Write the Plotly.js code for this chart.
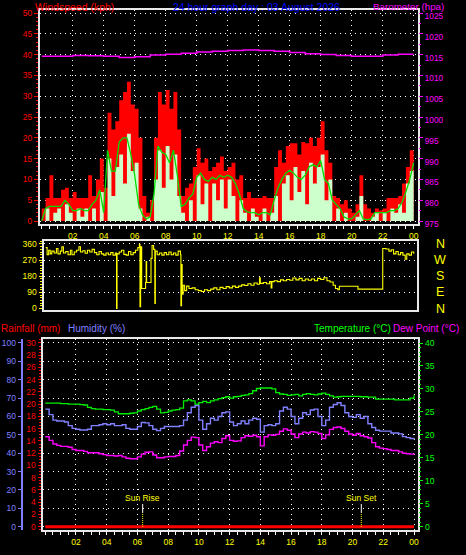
<!DOCTYPE html>
<html><head><meta charset="utf-8">
<script src="https://cdn.plot.ly/plotly-3.0.1.min.js"></script>
<style>html,body{margin:0;padding:0;background:#000;}#chart{width:466px;height:555px;}</style>
</head><body><div id="chart"></div>
<script>
// ---- Data (15-minute samples from 00:00 to 24:00) ----
const windGust = [
  3, 5.5, 11, 5.5,   5.5, 7.5, 8, 5.5,   7, 5.5, 5.5, 5.5,   11, 6, 10, 15,
  8, 26, 22, 24,     29, 31, 33.5, 28,   27, 20, 6, 2,       5, 20, 31, 28,
  31.5, 27, 31, 22,  6, 8, 9, 13,        17.5, 14, 15, 12,   13, 14, 15.5, 12,
  13, 14, 10, 11,    5.5, 7, 5.5, 5.5,   5.5, 6, 5.5, 5.5,   13, 17, 14, 18,
  18.7, 18.7, 16, 19, 18.7, 20, 18, 20,  24, 17, 14, 6,      5.5, 4, 5, 3,
  2, 4, 11, 4,       3, 2, 3, 2.5,       3, 5.5, 5.5, 5.5,   6, 9, 13, 17,
  22
];
const windAvg = [
  0, 3, 0, 2,        3, 0, 4, 2,         0, 3, 1, 3,         0, 3, 0, 7,
  0, 15, 6, 13,      16, 9, 21, 12,      14, 3, 0, 1,        0, 10, 17, 8,
  18, 10, 16, 6,     2, 0, 5, 0,         11, 4, 9, 0,        9, 5, 10, 3,
  10, 6, 0, 5,       2, 0, 3, 1,         0, 3, 0, 2,         6, 0, 9, 11,
  5, 13, 7, 12,      4, 14, 9, 13,       16, 5, 10, 0,       3, 0, 2, 0,
  0, 1, 6, 0,        0, 1, 2, 0,         2, 0, 3, 2,         4, 2, 9, 12,
  16
];
const windSmooth = [
  0, 3, 3.5, 3.5,    3.5, 3.5, 5, 4,     2.5, 2.5, 3, 2.5,   2.5, 4, 5, 7.5,
  2, 17, 12, 12,     19, 20, 20, 16,     11, 4, 1.5, 0.5,    1, 6.5, 18, 16.5,
  16, 14, 17, 11,    3.5, 4, 5.5, 6.5,   10.5, 11.5, 10, 9.5, 10.5, 10, 11, 10.5,
  11, 10.5, 9, 6.5,  3, 2.2, 2, 2,       1.5, 2, 2, 1.5,     5, 8, 10, 11.5,
  12.2, 11.5, 10.5, 10, 11, 13, 13.5, 13, 14.5, 10, 9, 5,    4, 3, 1, 0.5,
  0.5, 1.5, 2.5, 0.5, 0.3, 0.5, 2, 2,    2, 2, 2.5, 2.5,     3, 4.5, 7, 10,
  14
];
const baroHours = [0,1,2,3,4,5,6,7,8,9,10,11,12,13,14,15,16,17,18,19,20,21,22,23,24];
const baroValues = [1014.6,1014.6,1014.8,1014.7,1014.6,1014.3,1014.5,1014.9,1015.1,1015.3,1015.6,1015.8,
  1016.0,1016.1,1016.0,1015.8,1015.5,1015.2,1015.0,1014.8,1014.6,1014.6,1014.9,1015.1,1015.1];

const dirHours = [0.26,0.35,0.45,0.55,0.65,0.8,0.95,1.05,1.2,1.3,1.4,1.55,1.7,1.85,1.95,2.1,2.25,2.4,2.5,2.65,
  2.8,2.95,3.1,3.25,3.4,3.55,3.7,3.85,4.0,4.15,4.3,4.45,4.6,4.75,4.83,4.86,5.0,5.15,5.3,5.45,
  5.6,5.75,5.9,6.05,6.2,6.3,6.34,6.38,6.45,6.62,6.7,6.74,6.77,7.0,7.05,7.12,7.22,7.3,7.33,7.45,
  7.6,7.75,7.9,8.05,8.2,8.35,8.5,8.65,8.8,8.95,8.98,9.02,9.06,9.12,9.22,9.35,9.5,9.7,9.9,10.1,
  10.3,10.5,10.7,10.9,11.1,11.3,11.5,11.7,11.9,12.1,12.3,12.5,12.7,12.9,13.1,13.3,13.5,13.7,13.9,14.05,
  14.1,14.3,14.5,14.7,14.8,14.85,15.0,15.2,15.4,15.6,15.8,16.0,16.2,16.4,16.6,16.8,17.0,17.2,17.4,17.6,
  17.8,18.0,18.2,18.4,18.6,18.8,18.95,19.1,19.2,20.4,22.0,22.2,22.4,22.55,22.7,22.85,23.0,23.15,23.3,23.45,
  23.55,23.7,23.85,24.0];
const dirValues = [340,300,325,305,320,310,335,305,320,345,310,318,300,325,300,315,325,345,315,322,
  308,325,315,330,312,300,318,305,298,310,300,312,298,310,0,305,315,325,302,298,
  318,300,312,325,340,358,10,345,112,112,145,262,145,145,280,352,330,28,320,300,
  310,298,312,300,315,300,310,298,320,300,15,245,80,130,100,125,112,115,105,100,
  95,105,100,108,115,105,118,112,122,115,125,118,125,132,128,138,130,142,135,172,
  140,145,138,150,115,150,155,150,160,155,162,158,170,160,168,155,165,158,165,155,
  168,162,172,155,148,130,112,105,124,108,335,332,320,328,305,318,300,312,298,275,
  305,298,315,305];

const temperature = [
  26.9,26.9,26.9,26.9, 26.8,26.8,26.7,26.7, 26.7,26.6,26.5,26.0, 25.7,25.6,25.6,25.5,
  25.5,25.4,25.0,24.6, 24.6,24.6,24.7,24.8, 25.2,25.5,25.7,26.0, 26.2,25.6,24.8,24.9,
  25.2,25.4,25.5,25.8, 27.4,27.6,27.4,26.7, 27.0,27.3,27.0,27.4, 27.6,27.9,28.1,28.3,
  28.0,28.3,28.4,28.6, 28.7,29.0,29.6,30.1, 30.2,30.2,30.2,30.0, 29.2,28.9,28.8,28.6,
  28.7,28.8,28.5,28.8, 29.0,28.8,28.7,28.9, 29.1,28.8,28.5,28.2, 28.3,28.4,28.4,28.4,
  28.4,28.4,28.3,28.3, 28.2,28.2,27.8,27.8, 27.8,27.8,27.8,27.6, 27.6,27.6,27.6,28.0,
  28.6
];
const humidity = [
  64,61,58,57.5, 57.5,57,55,53.5, 53,52.6,52.6,53, 55,55,55.5,56,
  55.5,56,55,55, 55.5,53.5,53,53, 54.5,56.7,56.5,55, 53,52.3,53.5,54.5,
  54.5,54.5,54.5,55, 58,62,65,66, 58,53,56,59, 58,60,62,62.5,
  57,55,56,57.5, 56,58,59,58.5, 51.5,55,55.5,55, 56,63,65,64,
  60,56,59,62, 61,63.5,64,60, 55,58,65,66.5, 67.5,66,62,60,
  59.5,61,59,60, 56,54,52.5,52, 52,52,51,51, 50.5,49,48.5,48,
  47.5
];
const dewPoint = [
  19.6,18.8,18.0,17.7, 17.5,17.5,17.3,16.8, 16.6,16.6,16.4,16.1, 16.1,16.1,15.9,15.7,
  15.5,15.5,15.4,15.5, 15.2,14.9,14.8,14.8, 15.2,15.8,16.2,16.3, 15.6,15.0,15.0,15.2,
  15.3,15.3,15.5,16.5, 17.8,18.8,19.5,19.4, 17.8,16.6,17.4,18.2, 18.5,18.3,19.2,19.8,
  18.8,18.6,18.7,19.4, 19.8,19.7,19.9,19.6, 17.6,19.6,20.0,19.9, 20.1,20.8,21.3,21.0,
  20.2,19.4,20.2,20.6, 20.4,20.7,20.6,20.3, 19.2,20.0,21.2,21.6, 21.7,21.4,20.8,20.2,
  19.9,20.3,19.8,19.6, 19.3,18.3,17.4,17.1, 17.0,16.8,16.6,16.6, 16.3,16.0,15.9,15.8,
  16.0
];
const rainHours = [0,1,2,3,4,5,6,7,8,9,10,11,12,13,14,15,16,17,18,19,20,21,22,23,24];
const rainfall = [0,0,0,0,0,0,0,0,0,0,0,0,0,0,0,0,0,0,0,0,0,0,0,0,0];

const sunEventHours = [6.34, 20.57];
const sunEventLabels = ['Sun Rise', 'Sun Set'];

const hourTickVals = [2,4,6,8,10,12,14,16,18,20,22,24];
const hourTickText = ['02','04','06','08','10','12','14','16','18','20','22','00'];
const windTicks = [0,5,10,15,20,25,30,35,40,45,50];
const baroTicks = [975,980,985,990,995,1000,1005,1010,1015,1020,1025];
const dirTicks = [0,90,180,270,360];
const compassText = ['N','E','S','W','N'];
const rainTicks = [0,2,4,6,8,10,12,14,16,18,20,22,24,26,28,30];
const humTicks = [0,10,20,30,40,50,60,70,80,90,100];
const tempTicks = [0,5,10,15,20,25,30,35,40];

// sample times of the 15-minute series
const sampleHours = windGust.map((_, i) => i * 0.25);

// ---- Layout helpers ----
const W = 466, H = 555;
const px = v => v / W;
const py = v => 1 - v / H;
const FONT = 'Liberation Sans, Arial, sans-serif';
const GRID = '1px,4px';
const BORDER = '#e8e8e8';

const traces = [
  {x: sampleHours, y: windGust, xaxis: 'x', yaxis: 'y', type: 'scatter', mode: 'lines',
   line: {shape: 'hv', width: 0, color: '#ff0000'}, fill: 'tozeroy', fillcolor: '#ff0000', hoverinfo: 'skip'},
  {x: sampleHours, y: windAvg, xaxis: 'x', yaxis: 'y', type: 'scatter', mode: 'lines',
   line: {shape: 'hv', width: 0, color: '#ccffcc'}, fill: 'tozeroy', fillcolor: '#ccffcc', hoverinfo: 'skip'},
  {x: sampleHours, y: windSmooth, xaxis: 'x', yaxis: 'y', type: 'scatter', mode: 'lines',
   line: {width: 1.3, color: '#00dd00'}, hoverinfo: 'skip'},
  {x: baroHours, y: baroValues, xaxis: 'x', yaxis: 'y2', type: 'scatter', mode: 'lines',
   line: {shape: 'hv', width: 1.5, color: '#ff00ff'}, hoverinfo: 'skip'},
  {x: dirHours, y: dirValues, xaxis: 'x2', yaxis: 'y3', type: 'scatter', mode: 'lines',
   line: {shape: 'hv', width: 1.1, color: '#ffff00'}, hoverinfo: 'skip'},
  {x: rainHours, y: rainfall, xaxis: 'x3', yaxis: 'y5', type: 'scatter', mode: 'lines',
   line: {width: 3, color: '#ff0000'}, hoverinfo: 'skip'},
  {x: sampleHours, y: humidity, xaxis: 'x3', yaxis: 'y6', type: 'scatter', mode: 'lines',
   line: {shape: 'hv', width: 1.4, color: '#8080ff'}, hoverinfo: 'skip'},
  {x: sampleHours, y: temperature, xaxis: 'x3', yaxis: 'y7', type: 'scatter', mode: 'lines',
   line: {shape: 'hv', width: 1.3, color: '#00ee00'}, hoverinfo: 'skip'},
  {x: sampleHours, y: dewPoint, xaxis: 'x3', yaxis: 'y7', type: 'scatter', mode: 'lines',
   line: {shape: 'hv', width: 1.4, color: '#ff00ff'}, hoverinfo: 'skip'}
];

const tf = (c, s) => ({family: FONT, color: c, size: s || 8.5});
const hourAxis = (dom, rng, anchor, labels) => ({
  domain: dom, range: rng, anchor: anchor, fixedrange: true,
  tickmode: 'array', tickvals: hourTickVals, ticktext: hourTickText,
  showticklabels: labels, tickfont: tf('#ffff00', 8.5),
  ticks: labels ? 'outside' : '', ticklen: 3, tickcolor: '#ffffff', tickwidth: 1,
  minor: labels ? {tickmode: 'linear', tick0: 0, dtick: 0.5, ticks: 'outside', ticklen: 3, tickcolor: '#ffffff', showgrid: false} : undefined,
  showgrid: labels, gridcolor: '#ffffff', griddash: GRID, gridwidth: 1,
  showline: true, linecolor: BORDER, linewidth: 2, mirror: true, zeroline: false
});

const titleAnn = [
  {text: 'Windspeed (kph)', x: px(34), y: 1, color: '#ff0000', size: 10.5},
  {text: '24 hour graph day : 03 August 2026', x: px(172), y: 1, color: '#0000ff', size: 10.5},
  {text: 'Barometer (hpa)', x: px(372), y: 1, color: '#ff00ff', size: 9.8},
  {text: 'Rainfall (mm)', x: px(0), y: py(321.5), color: '#ff0000', size: 10},
  {text: 'Humidity (%)', x: px(66.5), y: py(321.5), color: '#8080ff', size: 10},
  {text: 'Temperature (°C)', x: px(313), y: py(321.5), color: '#00ff00', size: 10},
  {text: 'Dew Point (°C)', x: px(392), y: py(321.5), color: '#ff00ff', size: 10}
].map(a => ({text: a.text, x: a.x, y: a.y, xref: 'paper', yref: 'paper', xanchor: 'left', yanchor: 'top',
  showarrow: false, borderpad: 0, font: {family: FONT, color: a.color, size: a.size}}));

const compassAnn = dirTicks.map((d, i) => ({text: compassText[i], x: px(440), y: d, xref: 'paper', yref: 'y3',
  xanchor: 'center', yanchor: 'middle', showarrow: false, borderpad: 0,
  font: {family: FONT, color: '#ffff00', size: 12.5}}));

const sunAnn = sunEventHours.map((h, i) => ({text: sunEventLabels[i], x: h, y: py(497.7), xref: 'x3', yref: 'paper',
  xanchor: 'center', yanchor: 'middle', showarrow: false, borderpad: 0,
  font: {family: FONT, color: '#ffff00', size: 8.5}}));

const layout = {
  width: W, height: H, margin: {l: 0, r: 0, t: 0, b: 0},
  paper_bgcolor: '#000000', plot_bgcolor: '#000000', showlegend: false,
  font: {family: FONT, color: '#ffffff'},
  xaxis: hourAxis([px(40), px(418)], [-0.11, 24.28], 'y', true),
  yaxis: {domain: [py(224), py(10)], range: [-0.72, 50.72], anchor: 'x', fixedrange: true,
    tickmode: 'array', tickvals: windTicks, tickfont: tf('#ff0000', 8.5),
    ticks: 'outside', ticklen: 4, tickcolor: '#ff0000',
    minor: {tickmode: 'linear', tick0: 0, dtick: 1, ticks: 'outside', ticklen: 2, tickcolor: '#ff0000', showgrid: false},
    showgrid: true, gridcolor: '#ffffff', griddash: GRID, zeroline: false,
    showline: true, linecolor: BORDER, linewidth: 2, mirror: true},
  yaxis2: {overlaying: 'y', side: 'right', anchor: 'x', range: [974.28, 1025.72], fixedrange: true,
    tickmode: 'array', tickvals: baroTicks, tickfont: tf('#ff00ff', 8.3), ticklabelshift: 3,
    ticks: 'outside', ticklen: 4, tickcolor: '#ff00ff',
    minor: {tickmode: 'linear', tick0: 975, dtick: 2.5, ticks: 'outside', ticklen: 2, tickcolor: '#ff00ff', showgrid: false},
    showgrid: false, zeroline: false, showline: false},
  xaxis2: hourAxis([px(43.5), px(417)], [0.116, 24.21], 'y3', false),
  yaxis3: {domain: [py(309.5), py(241)], range: [-5.6, 376.7], anchor: 'x2', fixedrange: true,
    tickmode: 'array', tickvals: dirTicks, tickfont: tf('#ffff00', 8.5),
    ticks: 'outside', ticklen: 3, tickcolor: '#ffff00',
    minor: {tickmode: 'linear', tick0: 0, dtick: 15, ticks: 'outside', ticklen: 2, tickcolor: '#ffff00', showgrid: false},
    showgrid: true, gridcolor: '#ffffff', griddash: GRID, zeroline: false,
    showline: true, linecolor: BORDER, linewidth: 2, mirror: true},
  xaxis3: hourAxis([px(42.5), px(418.3)], [-0.18, 24.28], 'y5', true),
  yaxis5: {domain: [py(530), py(339.3)], range: [-0.54, 30.6], anchor: 'x3', fixedrange: true,
    tickmode: 'array', tickvals: rainTicks, tickfont: tf('#ff0000', 8.5),
    ticks: 'outside', ticklen: 3, tickcolor: '#ff0000',
    minor: {tickmode: 'linear', tick0: 0, dtick: 0.5, ticks: 'outside', ticklen: 2, tickcolor: '#ff0000', showgrid: false},
    showgrid: false, zeroline: false,
    showline: true, linecolor: BORDER, linewidth: 2, mirror: true},
  yaxis6: {overlaying: 'y5', anchor: 'free', position: px(21.7), side: 'left', range: [-1.8, 102.0], fixedrange: true,
    tickmode: 'array', tickvals: humTicks, tickfont: tf('#8080ff', 8.5),
    ticks: 'outside', ticklen: 3, tickcolor: '#8080ff',
    showgrid: true, gridcolor: '#ffffff', griddash: GRID, zeroline: false,
    showline: true, linecolor: '#8080ff', linewidth: 2},
  yaxis7: {overlaying: 'y5', side: 'right', anchor: 'x3', range: [-0.72, 40.81], fixedrange: true,
    tickmode: 'array', tickvals: tempTicks, tickfont: tf('#00ff00', 8.5),
    ticks: 'outside', ticklen: 4, tickcolor: '#00ff00',
    minor: {tickmode: 'linear', tick0: 0, dtick: 1, ticks: 'outside', ticklen: 2, tickcolor: '#00ff00', showgrid: false},
    showgrid: false, zeroline: false, showline: false},
  annotations: titleAnn.concat(compassAnn, sunAnn),
  shapes: [].concat(...sunEventHours.map(h => [
    {type: 'line', xref: 'x3', yref: 'paper', x0: h, x1: h, y0: py(513), y1: py(504), line: {color: '#ffffff', width: 1}},
    {type: 'line', xref: 'x3', yref: 'paper', x0: h, x1: h, y0: py(527), y1: py(513), line: {color: '#ffff00', width: 1, dash: '1px,1px'}}
  ]))
};

Plotly.newPlot('chart', traces, layout, {displayModeBar: false, staticPlot: true});
</script></body></html>
